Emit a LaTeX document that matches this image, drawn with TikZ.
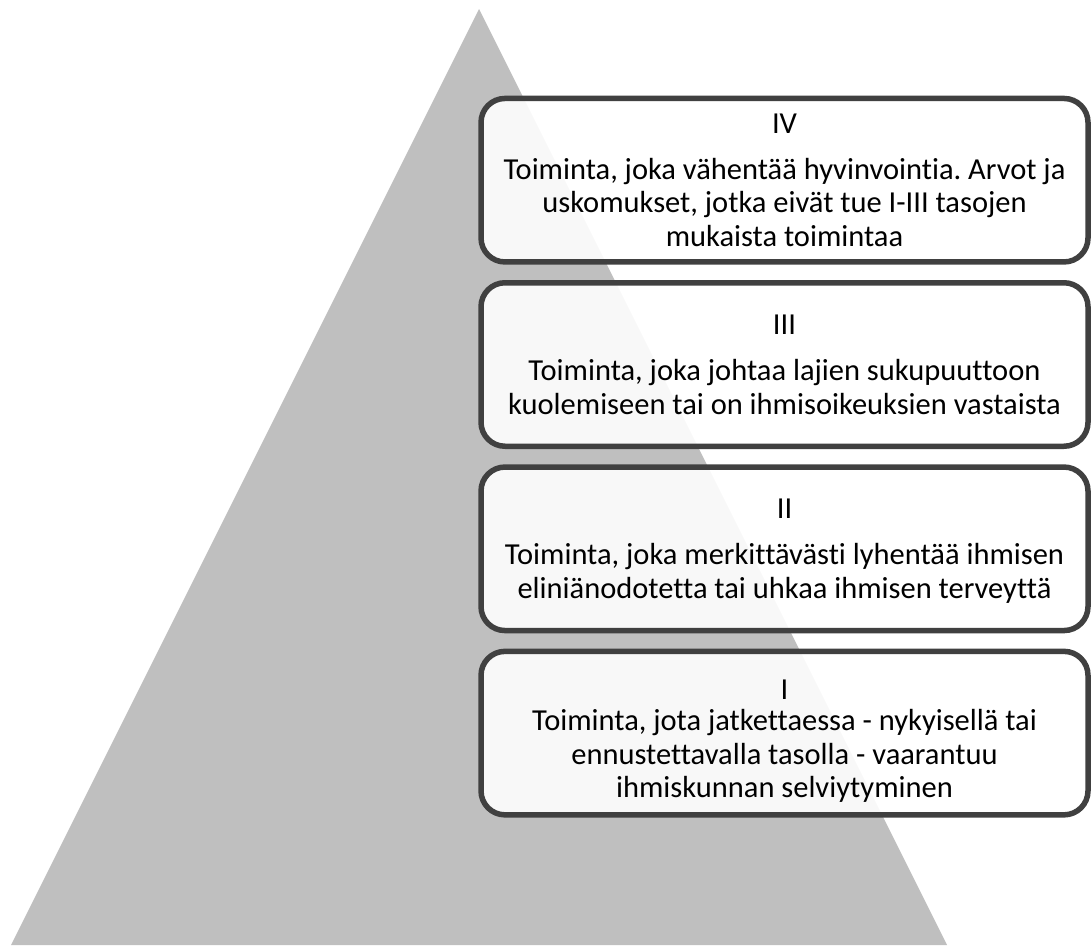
\documentclass[tikz,border=0pt]{standalone}
\usepackage{fontspec}
\setmainfont{Carlito}[Ligatures=NoCommon]
\frenchspacing
\usetikzlibrary{positioning}

\definecolor{pyramid}{HTML}{BFBFBF}
\definecolor{frame}{HTML}{404040}

\tikzset{
  level/.style={draw=frame, line width=5.5pt, rounded corners=24pt,
    fill=white, fill opacity=.9, text opacity=1,
    minimum width=607pt, minimum height=163.5pt, inner sep=0pt,
    text depth=0pt, align=center, font=\fontsize{30.5}{33.5}\selectfont}
}

\begin{document}
\begin{tikzpicture}[x=1pt,y=-1pt,node distance=15.3pt]
\useasboundingbox (0,0) rectangle (1091,945);

% pyramid
\coordinate (apex) at (479,9);
\coordinate (bl) at (11,945);
\coordinate (br) at (947,945);
\fill [pyramid] (apex) -- (bl) -- (br) -- cycle;

% levels
\node [level] (iv) at (784.5,180.2)
{IV\\[12.5pt]Toiminta, joka vähentää hyvinvointia. Arvot ja\\uskomukset, jotka eivät tue I-III tasojen\\mukaista toimintaa};
\node [level, below=of iv] (iii)
{III\\[12.5pt]Toiminta, joka johtaa lajien sukupuuttoon\\kuolemiseen tai on ihmisoikeuksien vastaista};
\node [level, below=of iii] (ii)
{II\\[12.5pt]Toiminta, joka merkittävästi lyhentää ihmisen\\eliniänodotetta tai uhkaa ihmisen terveyttä};
\node [level, below=of ii] (i)
{\rule{0pt}{31pt}I\\[-2.5pt]Toiminta, jota jatkettaessa - nykyisellä tai\\ennustettavalla tasolla - vaarantuu\\ihmiskunnan selviytyminen};
\end{tikzpicture}
\end{document}
